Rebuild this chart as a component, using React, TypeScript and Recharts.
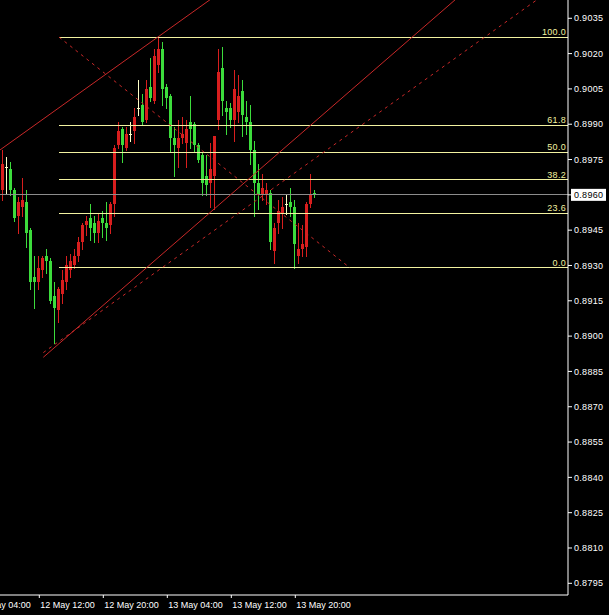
import React from 'react';
import { ComposedChart, Bar, XAxis, YAxis, ReferenceLine } from 'recharts';

// ---- candle data (30-minute bars, first bar index -1) ----
const firstBarIndex = -1;
const opens = [
  0.8958, 0.8962, 0.8972, 0.8971, 0.8962, 0.8951, 0.8955, 0.8957, 0.8945, 0.8925,
  0.8923, 0.8928, 0.8934, 0.8932, 0.8917, 0.8911, 0.8918, 0.8923, 0.8928, 0.8930,
  0.8934, 0.8940, 0.8947, 0.8950, 0.8948, 0.8944, 0.8950, 0.8948, 0.8947, 0.8956,
  0.8981, 0.8988, 0.8980, 0.8986, 0.8987, 0.8997, 0.8998, 0.8992, 0.9006, 0.9000,
  0.9015, 0.9022, 0.9006, 0.9002, 0.8984, 0.8980, 0.8984, 0.8982, 0.8991, 0.8990,
  0.8981, 0.8977, 0.8968, 0.8965, 0.8968, 0.8992, 0.9014, 0.8997, 0.8997, 0.8992,
  0.8995, 0.9004, 0.8993, 0.8991, 0.8979, 0.8965, 0.8960, 0.8960, 0.8961, 0.8936,
  0.8948, 0.8952, 0.8956, 0.8957, 0.8955, 0.8934, 0.8937, 0.8938, 0.8956, 0.8961,
];
const highs = [
  0.8972, 0.8979, 0.8976, 0.8974, 0.8963, 0.8959, 0.8967, 0.8962, 0.8946, 0.8934,
  0.8934, 0.8934, 0.8937, 0.8933, 0.8923, 0.8921, 0.8928, 0.8934, 0.8935, 0.8937,
  0.8942, 0.8948, 0.8951, 0.8956, 0.8951, 0.8952, 0.8953, 0.8957, 0.8957, 0.8981,
  0.8991, 0.8989, 0.8989, 0.8991, 0.8997, 0.9009, 0.9003, 0.9009, 0.9018, 0.9022,
  0.9027, 0.9025, 0.9007, 0.9003, 0.8989, 0.8992, 0.8993, 0.8992, 0.9002, 0.8991,
  0.8982, 0.8978, 0.8977, 0.8982, 0.8985, 0.9022, 0.9023, 0.9000, 0.8999, 0.9013,
  0.9011, 0.9009, 0.9000, 0.8998, 0.8983, 0.8973, 0.8969, 0.8965, 0.8962, 0.8948,
  0.8958, 0.8959, 0.8960, 0.8963, 0.8958, 0.8948, 0.8947, 0.8957, 0.8969, 0.8962,
];
const lows = [
  0.8955, 0.8958, 0.8961, 0.8960, 0.8949, 0.8944, 0.8951, 0.8938, 0.8920, 0.8912,
  0.8920, 0.8925, 0.8927, 0.8914, 0.8897, 0.8906, 0.8914, 0.8920, 0.8925, 0.8929,
  0.8932, 0.8937, 0.8943, 0.8941, 0.8940, 0.8940, 0.8942, 0.8941, 0.8944, 0.8951,
  0.8980, 0.8974, 0.8979, 0.8983, 0.8982, 0.8994, 0.8990, 0.8991, 0.9000, 0.8999,
  0.9012, 0.8998, 0.8997, 0.8978, 0.8968, 0.8972, 0.8982, 0.8972, 0.8980, 0.8978,
  0.8974, 0.8960, 0.8960, 0.8955, 0.8954, 0.8988, 0.8994, 0.8986, 0.8989, 0.8983,
  0.8991, 0.8985, 0.8986, 0.8973, 0.8951, 0.8954, 0.8958, 0.8956, 0.8937, 0.8931,
  0.8944, 0.8946, 0.8952, 0.8951, 0.8929, 0.8931, 0.8934, 0.8934, 0.8955, 0.8959,
];
const closes = [
  0.8969, 0.8973, 0.8972, 0.8962, 0.8950, 0.8957, 0.8958, 0.8944, 0.8923, 0.8923,
  0.8929, 0.8933, 0.8932, 0.8915, 0.8912, 0.8920, 0.8924, 0.8930, 0.8932, 0.8934,
  0.8940, 0.8947, 0.8949, 0.8946, 0.8944, 0.8949, 0.8948, 0.8946, 0.8956, 0.8980,
  0.8987, 0.8981, 0.8986, 0.8986, 0.8993, 0.8997, 0.8991, 0.9005, 0.9001, 0.9019,
  0.9022, 0.9005, 0.9001, 0.8984, 0.8981, 0.8984, 0.8986, 0.8988, 0.8988, 0.8981,
  0.8975, 0.8965, 0.8964, 0.8971, 0.8985, 0.9012, 0.9000, 0.8995, 0.8992, 0.9005,
  0.9002, 0.8994, 0.8991, 0.8979, 0.8965, 0.8960, 0.8963, 0.8962, 0.8940, 0.8946,
  0.8953, 0.8955, 0.8956, 0.8955, 0.8939, 0.8937, 0.8939, 0.8956, 0.8960, 0.8960,
];

// ---- axes ----
const timeTickIndex = [-7, 9, 25, 41, 57, 73];
const timeTickLabels = ['12 May 04:00', '12 May 12:00', '12 May 20:00', '13 May 04:00', '13 May 12:00', '13 May 20:00'];
const priceTicks = [
  0.8795, 0.8810, 0.8825, 0.8840, 0.8855, 0.8870, 0.8885, 0.8900, 0.8915,
  0.8930, 0.8945, 0.8960, 0.8975, 0.8990, 0.9005, 0.9020, 0.9035,
];
const currentPrice = 0.8960;
const X_MIN = -0.825;
const X_MAX = 141.175;
const PRICE_MIN = 0.879003;
const PRICE_MAX = 0.904277;

// ---- drawing objects (bar index, price) ----
const fibLabels = ['0.0', '23.6', '38.2', '50.0', '61.8', '100.0'];
const fibPrices = [0.8929, 0.89521, 0.89664, 0.8978, 0.89896, 0.9027];
const fibAnchorStart = { k: 13.95, price: 0.9027 };
const fibAnchorEnd = { k: 86.675, price: 0.8929 };
const channelSolidUpper = [{ k: -5, price: 0.8974 }, { k: 60, price: 0.9053 }];
const channelSolidLower = [{ k: 10, price: 0.8891 }, { k: 130, price: 0.9068 }];
const channelDottedLower = [{ k: 10, price: 0.8893 }, { k: 150, price: 0.9063 }];

const FONT = '"Liberation Sans", Arial, sans-serif';
const UP = '#d81e1e';
const DOWN = '#3cdc3c';
const DOJI = '#ffffc8';
const FIB = '#f2f2a0';
const TREND = '#c82828';

const Candle = (props: any) => {
  const { x, y, width, height, payload } = props;
  if (!payload || x == null) return null;
  const { o, h, l, c } = payload;
  const top = Math.min(y, y + height);
  const span = Math.abs(height);
  const py = (p: number) => (h === l ? top : top + ((h - p) / (h - l)) * span);
  const cx = Math.floor(x + width / 2);
  const color = c > o ? UP : c < o ? DOWN : DOJI;
  const bTop = Math.round(py(Math.max(o, c)));
  const bBot = Math.round(py(Math.min(o, c)));
  return (
    <g shapeRendering="crispEdges">
      <line x1={cx + 0.5} x2={cx + 0.5} y1={Math.round(py(h))} y2={Math.round(py(l)) + 1} stroke={color} strokeWidth={1} />
      {o === c ? (
        <line x1={cx - 1} x2={cx + 2} y1={bTop + 0.5} y2={bTop + 0.5} stroke={color} strokeWidth={1} />
      ) : (
        <rect x={cx - 1} y={bTop} width={3} height={Math.max(1, bBot - bTop)} fill={color} />
      )}
    </g>
  );
};

const TimeTick = (props: any) => {
  const { x, y, payload } = props;
  const i = timeTickIndex.indexOf(payload.value);
  return (
    <text x={x + 1} y={y + 7.5} fill="#ffffff" fontSize={9} fontFamily={FONT} textAnchor="start">
      {timeTickLabels[i]}
    </text>
  );
};

const PriceTick = (props: any) => {
  const { x, y, payload } = props;
  const v = payload.value as number;
  const label = v.toFixed(4);
  if (Math.abs(v - currentPrice) < 1e-7) {
    return (
      <g>
        <rect x={x - 3} y={y - 6} width={35} height={12} fill="#ffffff" />
        <text x={x} y={y} dy="0.35em" fill="#000000" fontSize={9} letterSpacing={0.3} fontFamily={FONT} textAnchor="start">
          {label}
        </text>
      </g>
    );
  }
  return (
    <text x={x} y={y} dy="0.35em" fill="#ffffff" fontSize={9} letterSpacing={0.3} fontFamily={FONT} textAnchor="start">
      {label}
    </text>
  );
};

const FibLabel = (text: string) => (props: any) => {
  const vb = props.viewBox || {};
  return (
    <text x={vb.x + vb.width - 2} y={vb.y - 2} fill={FIB} fontSize={9} letterSpacing={0.3} fontFamily={FONT} textAnchor="end">
      {text}
    </text>
  );
};

export default function App() {
  const rows = opens.map((o, i) => ({
    k: firstBarIndex + i,
    o,
    h: highs[i],
    l: lows[i],
    c: closes[i],
    range: [lows[i], highs[i]],
  }));
  return (
    <div style={{ position: 'absolute', left: 0, top: 0, width: 609, height: 615, background: '#000', overflow: 'hidden' }}>
      <ComposedChart width={609} height={615} data={rows} margin={{ top: 0, right: 0, bottom: 0, left: 0 }}>
        <XAxis
          dataKey="k"
          type="number"
          scale="linear"
          domain={[X_MIN, X_MAX]}
          allowDataOverflow
          ticks={timeTickIndex}
          interval={0}
          height={20}
          tickSize={3}
          stroke="#ffffff"
          tick={(p: any) => <TimeTick {...p} />}
        />
        <YAxis
          orientation="right"
          type="number"
          width={41}
          domain={[PRICE_MIN, PRICE_MAX]}
          allowDataOverflow
          ticks={priceTicks}
          interval={0}
          tickSize={4}
          stroke="#ffffff"
          tick={(p: any) => <PriceTick {...p} />}
        />
        <Bar dataKey="range" barSize={3} isAnimationActive={false} shape={(p: any) => <Candle {...p} />} />
        <ReferenceLine y={currentPrice} stroke="#8c8c8c" strokeWidth={1} shapeRendering="crispEdges" />
        {fibPrices.map((p, i) => (
          <ReferenceLine
            key={fibLabels[i]}
            segment={[{ x: fibAnchorStart.k, y: p }, { x: X_MAX, y: p }]}
            stroke={FIB}
            strokeWidth={1}
            ifOverflow="visible"
            shapeRendering="crispEdges"
            label={FibLabel(fibLabels[i])}
          />
        ))}
        <ReferenceLine
          segment={[{ x: fibAnchorStart.k, y: fibAnchorStart.price }, { x: fibAnchorEnd.k, y: fibAnchorEnd.price }]}
          stroke={TREND}
          strokeDasharray="3 4"
          ifOverflow="hidden"
        />
        <ReferenceLine
          segment={[{ x: channelSolidUpper[0].k, y: channelSolidUpper[0].price }, { x: channelSolidUpper[1].k, y: channelSolidUpper[1].price }]}
          stroke={TREND}
          ifOverflow="hidden"
        />
        <ReferenceLine
          segment={[{ x: channelSolidLower[0].k, y: channelSolidLower[0].price }, { x: channelSolidLower[1].k, y: channelSolidLower[1].price }]}
          stroke={TREND}
          ifOverflow="hidden"
        />
        <ReferenceLine
          segment={[{ x: channelDottedLower[0].k, y: channelDottedLower[0].price }, { x: channelDottedLower[1].k, y: channelDottedLower[1].price }]}
          stroke={TREND}
          strokeDasharray="3 4"
          ifOverflow="hidden"
        />
      </ComposedChart>
    </div>
  );
}
